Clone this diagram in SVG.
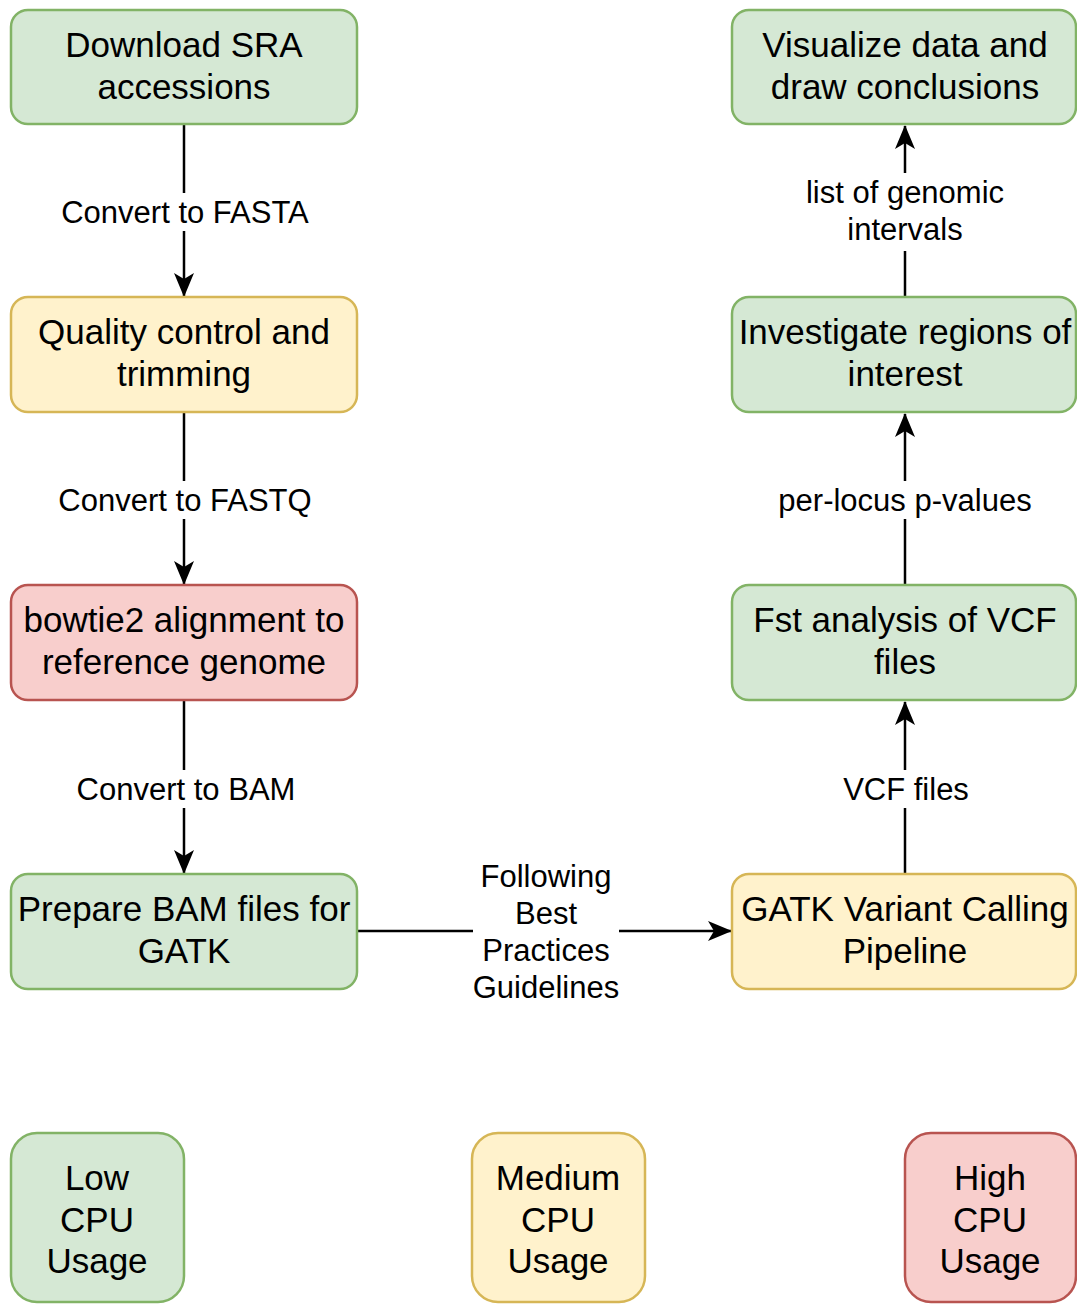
<svg xmlns="http://www.w3.org/2000/svg" width="1077" height="1304" viewBox="0 0 1077 1304">
<defs>
<style>
.box{stroke-width:2.5}
.g{fill:#d5e8d4;stroke:#82b366}
.y{fill:#fff2cc;stroke:#d6b656}
.r{fill:#f8cecc;stroke:#b85450}
.t{font-family:"Liberation Sans",Arial,sans-serif;font-size:35px;fill:#000;text-anchor:middle}
.l{font-family:"Liberation Sans",Arial,sans-serif;font-size:31px;fill:#000;text-anchor:middle}
.e{stroke:#000;stroke-width:2.5;fill:none;marker-end:url(#arr)}
.bg{fill:#fff}
</style>
<marker id="arr" markerUnits="userSpaceOnUse" viewBox="0 0 24 20" markerWidth="24" markerHeight="20" refX="23" refY="10" orient="auto">
<path d="M0,0 L24,10 L0,20 L6,10 Z" fill="#000"/>
</marker>
</defs>
<rect width="1077" height="1304" fill="#fff"/>
<g id="edges">
<path class="e" d="M184,124 L184,296"/>
<path class="e" d="M184,412 L184,584"/>
<path class="e" d="M184,700 L184,873"/>
<path class="e" d="M357,931 L731,931"/>
<path class="e" d="M905,874 L905,702"/>
<path class="e" d="M905,585 L905,414"/>
<path class="e" d="M905,297 L905,126"/>
<rect class="bg" x="60" y="193" width="250" height="38"/>
<text class="l" x="185" y="223">Convert to FASTA</text>
<rect class="bg" x="57" y="481" width="255" height="38"/>
<text class="l" x="185" y="511">Convert to FASTQ</text>
<rect class="bg" x="74" y="770" width="224" height="38"/>
<text class="l" x="186" y="800">Convert to BAM</text>
<rect class="bg" x="473" y="858" width="146" height="148"/>
<text class="l" x="546" y="887">Following</text>
<text class="l" x="546" y="924">Best</text>
<text class="l" x="546" y="961">Practices</text>
<text class="l" x="546" y="998">Guidelines</text>
<rect class="bg" x="840" y="770" width="132" height="38"/>
<text class="l" x="906" y="800">VCF files</text>
<rect class="bg" x="772" y="481" width="266" height="38"/>
<text class="l" x="905" y="511">per-locus p-values</text>
<rect class="bg" x="800" y="173" width="210" height="78"/>
<text class="l" x="905" y="203">list of genomic</text>
<text class="l" x="905" y="240">intervals</text>
</g>
<g id="n1"><rect class="box g" x="11" y="10" width="346" height="114" rx="17"/><text class="t" x="184" y="57">Download SRA</text><text class="t" x="184" y="99">accessions</text></g>
<g id="n2"><rect class="box y" x="11" y="297" width="346" height="115" rx="17"/><text class="t" x="184" y="344">Quality control and</text><text class="t" x="184" y="386">trimming</text></g>
<g id="n3"><rect class="box r" x="11" y="585" width="346" height="115" rx="17"/><text class="t" x="184" y="632">bowtie2 alignment to</text><text class="t" x="184" y="674">reference genome</text></g>
<g id="n4"><rect class="box g" x="11" y="874" width="346" height="115" rx="17"/><text class="t" x="184" y="921">Prepare BAM files for</text><text class="t" x="184" y="963">GATK</text></g>
<g id="n5"><rect class="box y" x="732" y="874" width="344" height="115" rx="17"/><text class="t" x="905" y="921">GATK Variant Calling</text><text class="t" x="905" y="963">Pipeline</text></g>
<g id="n6"><rect class="box g" x="732" y="585" width="344" height="115" rx="17"/><text class="t" x="905" y="632">Fst analysis of VCF</text><text class="t" x="905" y="674">files</text></g>
<g id="n7"><rect class="box g" x="732" y="297" width="344" height="115" rx="17"/><text class="t" x="905" y="344">Investigate regions of</text><text class="t" x="905" y="386">interest</text></g>
<g id="n8"><rect class="box g" x="732" y="10" width="344" height="114" rx="17"/><text class="t" x="905" y="57">Visualize data and</text><text class="t" x="905" y="99">draw conclusions</text></g>
<g id="low"><rect class="box g" x="11" y="1133" width="173" height="169" rx="26"/><text class="t" x="97" y="1190">Low</text><text class="t" x="97" y="1232">CPU</text><text class="t" x="97" y="1273">Usage</text></g>
<g id="med"><rect class="box y" x="472" y="1133" width="173" height="169" rx="26"/><text class="t" x="558" y="1190">Medium</text><text class="t" x="558" y="1232">CPU</text><text class="t" x="558" y="1273">Usage</text></g>
<g id="high"><rect class="box r" x="905" y="1133" width="171" height="169" rx="26"/><text class="t" x="990" y="1190">High</text><text class="t" x="990" y="1232">CPU</text><text class="t" x="990" y="1273">Usage</text></g>
</svg>
